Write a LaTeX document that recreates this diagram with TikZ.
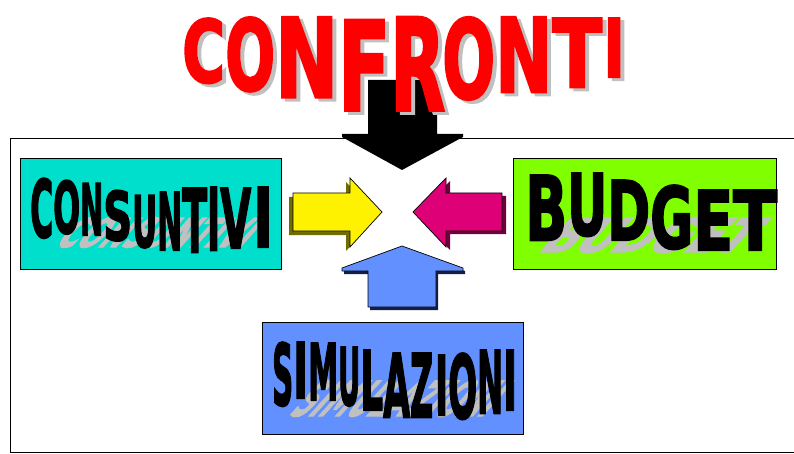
\documentclass[tikz,border=0pt]{standalone}
\usepackage{fontspec}
\setmainfont{Liberation Sans}
\newfontfamily\heavyfont{DejaVu Sans}[UprightFont=* Bold, FakeBold=2.5]
\usepackage{graphicx}
\definecolor{cyanbox}{RGB}{0,222,204}
\definecolor{greenbox}{RGB}{128,255,0}
\definecolor{bluebox}{RGB}{98,144,255}
\definecolor{magarrow}{RGB}{221,0,119}
\definecolor{magdark}{RGB}{110,0,60}
\definecolor{yeldark}{RGB}{110,110,0}
\definecolor{bluedark}{RGB}{20,30,70}
\definecolor{shadowgray}{RGB}{192,192,192}
\definecolor{titlered}{RGB}{255,0,0}
\begin{document}
\begin{tikzpicture}[x=1pt,y=-1pt,
  box/.style={draw=black,line width=1.2pt,inner sep=0pt,anchor=north west},
  ltr/.style={inner sep=0pt,anchor=north west,font=\heavyfont},
  redltr/.style={ltr,text=titlered},
  grayltr/.style={ltr,text=shadowgray},
  wordshadow/.style={inner sep=0pt,anchor=south west,font=\heavyfont,text=shadowgray,xslant=0.9,transform shape},
  arrowline/.style={draw=black,line width=0.7pt,line join=miter}]
\useasboundingbox (0,0) rectangle (794,454);
% frame
\draw[line width=1.3pt] (794,138.5) -- (10.5,138.5) -- (10.5,452.5) -- (794,452.5);
% boxes
\node[box,fill=cyanbox,minimum width=261,minimum height=111] (cons) at (20,158) {};
\node[box,fill=greenbox,minimum width=263,minimum height=111] (budg) at (513,158) {};
\node[box,fill=bluebox,minimum width=261,minimum height=112] (simu) at (262,322) {};
% black arrow from the title
\fill[black] (368,80) -- (437,80) -- (437,134) -- (463,134) -- (463,137) -- (402,170) -- (342,137) -- (342,134) -- (368,134) -- cycle;
% yellow arrow
\fill[yeldark] (289,197) -- (346,197) -- (346,182) -- (378,216) -- (346,251) -- (346,235) -- (289,235) -- cycle;
\path[arrowline,fill=yellow] (293,193) -- (350,193) -- (350,178) -- (382,212) -- (350,247) -- (350,231) -- (293,231) -- cycle;
% magenta arrow
\fill[magdark] (506,196) -- (450,196) -- (450,181) -- (417,215) -- (450,250) -- (450,234) -- (506,234) -- cycle;
\path[arrowline,fill=magarrow] (502,193) -- (446,193) -- (446,178) -- (413,212) -- (446,247) -- (446,231) -- (502,231) -- cycle;
% blue arrow
\fill[bluedark] (404,249) -- (465,271) -- (465,274) -- (438,274) -- (438,310) -- (370,310) -- (370,274) -- (344,274) -- (344,271) -- cycle;
\path[arrowline,fill=bluebox] (402,246) -- (463,268) -- (463,271) -- (436,271) -- (436,307) -- (368,307) -- (368,271) -- (342,271) -- (342,268) -- cycle;
% title CONFRONTI: shadow then letters
\foreach \c/\x/\y/\w/\h [count=\i] in {C/182/18/43/64, O/225/17/50/73, N/275/17/63/80, F/338/20/52/90, R/390/17/55/93, O/442/17/53/81, N/495/17/57/75, T/552/18/50/69, I/603/18/22/59}{
  \node[grayltr] (ts\i) at (\x+4,\y+3) {\resizebox{\w pt}{\h pt}{\c}};
}
\foreach \c/\x/\y/\w/\h [count=\i] in {C/182/18/43/64, O/225/17/50/73, N/275/17/63/80, F/338/20/52/90, R/390/17/55/93, O/442/17/53/81, N/495/17/57/75, T/552/18/50/69, I/603/18/22/59}{
  \node[redltr] (t\i) at (\x,\y) {\resizebox{\w pt}{\h pt}{\c}};
}
% CONSUNTIVI
\begin{scope}[shift={(52,248)}]
  \node[wordshadow] (consh) at (0,0) {\resizebox{190pt}{30pt}{CONSUNTIVI}};
\end{scope}
\foreach \c/\x/\y/\w/\h [count=\i] in {C/30/178/23/59, O/53/180/27/53, N/80/183/23/52, S/103/190/29/50, U/132/195/25/52, N/157/192/25/58, T/182/188/25/64, I/207/187/13/63, V/220/188/31/60, I/253/187/20/60}{
  \node[ltr] (cl\i) at (\x,\y) {\resizebox{\w pt}{\h pt}{\c}};
}
% BUDGET
\begin{scope}[shift={(535,253)}]
  \node[wordshadow] (budsh) at (0,0) {\resizebox{205pt}{35pt}{BUDGET}};
\end{scope}
\foreach \c/\x/\y/\w/\h [count=\i] in {B/525/175/42/65, U/567/173/40/62, D/607/180/43/60, G/650/185/43/63, E/693/190/40/60, T/733/190/44/60}{
  \node[ltr] (bl\i) at (\x,\y) {\resizebox{\w pt}{\h pt}{\c}};
}
% SIMULAZIONI
\begin{scope}[shift={(286,417)}]
  \node[wordshadow] (simsh) at (0,0) {\resizebox{198pt}{36pt}{SIMULAZIONI}};
\end{scope}
\foreach \c/\x/\y/\w/\h [count=\i] in {S/272/342/21/63, I/293/342/15/56, M/308/343/30/57, U/338/347/22/58, L/360/350/23/60, A/383/353/27/64, Z/410/353/23/64, I/435/355/13/60, O/448/353/29/65, N/477/350/26/63, I/503/350/14/60}{
  \node[ltr] (sl\i) at (\x,\y) {\resizebox{\w pt}{\h pt}{\c}};
}
\end{tikzpicture}
\end{document}
